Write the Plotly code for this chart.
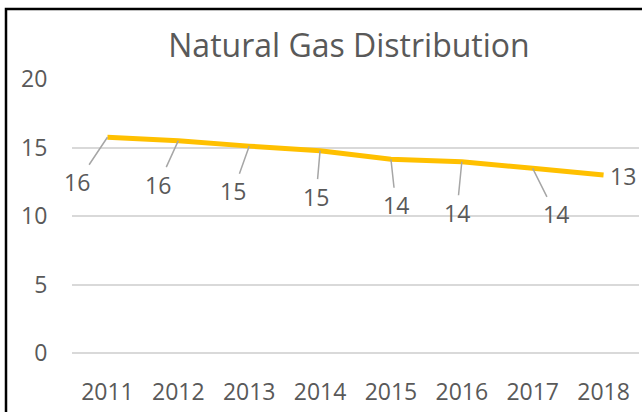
import plotly.graph_objects as go

years = ["2011", "2012", "2013", "2014", "2015", "2016", "2017", "2018"]
values = [15.75, 15.5, 15.1, 14.77, 14.14, 13.96, 13.48, 13.0]
labels = ["16", "16", "15", "15", "14", "14", "14", "13"]

# label offsets (pixels) for leader-lined data labels
label_dx = [-30, -20, -16, -4, 5, -5, 23, 19]
label_dy = [45, 44, 45, 46, 46, 51, 46, 1]
show_leader = [True, True, True, True, True, True, True, False]

FONT = "Open Sans"
GRAY = "#595959"

fig = go.Figure()
fig.add_trace(go.Scatter(
    x=years, y=values, mode="lines",
    line=dict(color="#FFC000", width=5),
    hoverinfo="skip", showlegend=False,
))

for i, (y, t, dx, dy, lead) in enumerate(zip(values, labels, label_dx, label_dy, show_leader)):
    if lead:
        fig.add_annotation(
            x=i, y=y, text=t, showarrow=True, arrowhead=0, arrowwidth=1.5,
            arrowcolor="#A6A6A6", ax=dx, ay=dy, standoff=0,
            font=dict(family=FONT, size=23, color=GRAY),
        )
    else:
        fig.add_annotation(
            x=i, y=y, text=t, showarrow=False, xshift=dx, yshift=-dy,
            font=dict(family=FONT, size=23, color=GRAY),
        )

# outer chart frame
fig.add_shape(type="rect", xref="paper", yref="paper",
              x0=-0.1164, x1=1.2, y0=-0.4, y1=1.2552,
              line=dict(color="black", width=2.5), layer="above")

fig.update_layout(
    width=642, height=412,
    margin=dict(l=72, r=3, t=79, b=59),
    paper_bgcolor="white", plot_bgcolor="white",
    font=dict(family=FONT, color=GRAY),
    title=dict(text="Natural Gas Distribution", x=0.4885, xref="paper", xanchor="center",
               y=1 - 46 / 412, yref="container", yanchor="middle",
               font=dict(family=FONT, size=32, color=GRAY)),
    xaxis=dict(type="category", range=[-0.5, 7.5], showgrid=False, zeroline=False,
               showline=False, ticks="outside", ticklen=18, tickcolor="rgba(0,0,0,0)",
               tickfont=dict(family=FONT, size=23, color=GRAY)),
    yaxis=dict(range=[0, 20], tickvals=[0, 5, 10, 15, 20], showgrid=True,
               gridcolor="#D9D9D9", gridwidth=1.5, zeroline=True, zerolinecolor="#D9D9D9",
               zerolinewidth=1.5, showline=False, ticks="outside", ticklen=19,
               tickcolor="rgba(0,0,0,0)",
               tickfont=dict(family=FONT, size=23, color=GRAY)),
)

fig.write_html("out.html", config={"displayModeBar": False},
               post_script="document.body.style.margin='0';document.body.style.overflow='hidden';")
